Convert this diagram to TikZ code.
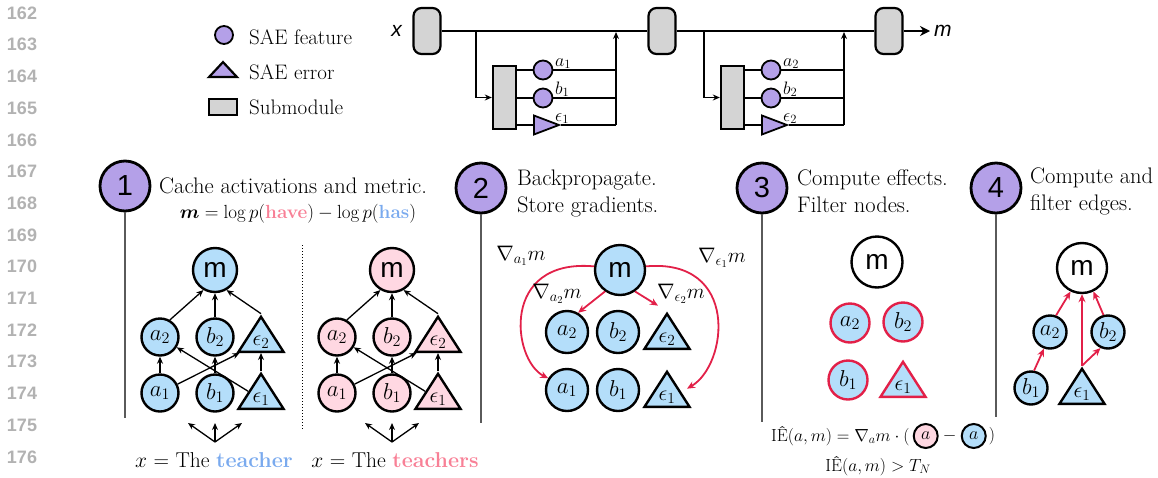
\documentclass[tikz,border=0pt]{standalone}
\usepackage{fix-cm}
\usepackage{amsmath}
\usepackage{fontspec}
\newfontfamily\sansf{Liberation Sans}
\usetikzlibrary{shapes.geometric,arrows.meta,positioning,calc}
\definecolor{purp}{RGB}{180,160,232}
\definecolor{lblue}{RGB}{180,222,250}
\definecolor{lpink}{RGB}{255,216,226}
\definecolor{gbox}{RGB}{212,212,212}
\definecolor{redc}{RGB}{226,32,72}
\definecolor{tblue}{RGB}{122,170,238}
\definecolor{tpink}{RGB}{248,128,150}
\definecolor{lngray}{RGB}{178,178,178}
\definecolor{vline}{RGB}{90,90,90}
\tikzset{
 txt/.style={font=\fontsize{22.5}{27}\selectfont, inner sep=0pt},
 legt/.style={font=\fontsize{21}{24}\selectfont, inner sep=0pt, anchor=west},
 lnum/.style={font=\sansf\bfseries\fontsize{18}{18}\selectfont, text=lngray, inner sep=0pt},
 secc/.style={circle, draw, fill=purp, line width=2.8pt, minimum size=50pt, inner sep=0pt, font=\sansf\fontsize{29}{29}\selectfont},
 pline/.style={draw=vline, line width=1.1pt},
 gnode/.style={circle, draw, line width=2.4pt, minimum size=37pt, inner sep=0pt, font=\fontsize{23}{23}\selectfont},
 mnode/.style={gnode, minimum size=44pt, font=\sansf\fontsize{28}{28}\selectfont},
 gtri/.style={isosceles triangle, isosceles triangle stretches, shape border rotate=90, draw, line width=2.4pt, minimum width=45pt, minimum height=35pt, inner sep=0pt, anchor=lower side, font=\fontsize{22}{22}\selectfont},
 bfill/.style={fill=lblue},
 pfill/.style={fill=lpink},
 barr/.style={-{Stealth[length=7pt,width=6pt]}, line width=1.3pt},
 rarr/.style={-{Stealth[length=8pt,width=7pt]}, line width=1.8pt, draw=redc},
 wire/.style={line width=1.4pt},
 warr/.style={wire, -{Stealth[length=7pt,width=6pt]}},
 mainw/.style={line width=2pt},
 subm/.style={draw, fill=gbox, rounded corners=8pt, line width=2.2pt, minimum width=27pt, minimum height=46pt, inner sep=0pt},
 boxm/.style={draw, fill=gbox, line width=2.4pt, minimum width=23pt, minimum height=63pt, inner sep=0pt},
 featc/.style={circle, draw, fill=purp, line width=1.8pt, minimum size=18pt, inner sep=0pt},
 ftri/.style={isosceles triangle, isosceles triangle stretches, draw, fill=purp, line width=1.8pt, minimum width=19pt, minimum height=25pt, inner sep=0pt, anchor=lower side},
 slab/.style={font=\fontsize{18}{18}\selectfont, inner sep=1pt, anchor=south west},
 glab/.style={font=\fontsize{21}{21}\selectfont, inner sep=0pt},
 eqt/.style={font=\fontsize{17.5}{17.5}\selectfont, inner sep=0pt},
 fcirc/.style={circle, draw, line width=2pt, minimum size=24pt, inner sep=0pt, font=\fontsize{18}{18}\selectfont},
}
\begin{document}
\begin{tikzpicture}[x=1pt,y=-1pt]
\useasboundingbox (0,0) rectangle (1158,477);
% line numbers
\foreach \k in {162,...,176}{
  \pgfmathsetmacro{\yy}{13+(\k-162)*31.7}
  \node[lnum] (ln\k) at (22,\yy) {\k};
}
% legend
\node[featc] (lgf) at (224,35) {};
\node[legt] (lgft) at (249,37) {SAE feature};
\node[isosceles triangle, isosceles triangle stretches, shape border rotate=90, draw, fill=purp, line width=2.2pt, minimum width=28pt, minimum height=15pt, inner sep=0pt] (lge) at (223,71) {};
\node[legt] (lget) at (249,72) {SAE error};
\node[draw, fill=gbox, line width=2.4pt, minimum width=28pt, minimum height=16pt, inner sep=0pt] (lgs) at (223,107) {};
\node[legt] (lgst) at (249,107) {Submodule};
% top circuit
\node[subm] (s1) at (427,31) {};
\node[subm] (s2) at (662,31) {};
\node[subm] (s3) at (889,31) {};
\node[font=\sansf\fontsize{21}{21}\selectfont, inner sep=0pt] (xin) at (397,31) {\textit{x}};
\node[font=\sansf\itshape\fontsize{21}{21}\selectfont, inner sep=0pt, anchor=west] (mout) at (934,31) {m};
\coordinate (mend) at (930,31);
\draw[mainw] (s1) -- (s2);
\draw[mainw] (s2) -- (s3);
\draw[mainw, -{Stealth[length=10pt,width=10pt]}] (s3) -- (mend);
% branch 1
\coordinate (c1) at (476,31);
\node[boxm] (box1) at (504.5,97.5) {};
\node[featc, minimum size=19pt] (f1a) at (543,70) {};
\node[featc, minimum size=19pt] (f1b) at (543,98) {};
\node[ftri] (f1e) at (533,125) {};
\coordinate (j1a) at (616,70);
\coordinate (j1b) at (616,98);
\coordinate (j1e) at (616,125);
\coordinate (j1t) at (616,32);
\draw[warr] (c1) |- (box1.west);
\draw[wire] (box1.east |- f1a) -- (f1a);
\draw[wire] (box1.east |- f1b) -- (f1b);
\draw[wire] (box1.east |- j1e) -- (f1e.lower side);
\draw[wire] (f1a) -- (j1a);
\draw[wire] (f1b) -- (j1b);
\draw[wire] (f1e.apex) -- (j1e);
\draw[warr] (j1e) -- (j1t);
\node[slab] (l1a) at (554,70) {$a_1$};
\node[slab] (l1b) at (554,98) {$b_1$};
\node[slab] (l1e) at (554,125) {$\epsilon_1$};
% branch 2
\coordinate (c2) at (704,31);
\node[boxm] (box2) at (732.5,97.5) {};
\node[featc, minimum size=19pt] (f2a) at (771,70) {};
\node[featc, minimum size=19pt] (f2b) at (771,98) {};
\node[ftri] (f2e) at (761,125) {};
\coordinate (j2a) at (844,70);
\coordinate (j2b) at (844,98);
\coordinate (j2e) at (844,125);
\coordinate (j2t) at (844,32);
\draw[warr] (c2) |- (box2.west);
\draw[wire] (box2.east |- f2a) -- (f2a);
\draw[wire] (box2.east |- f2b) -- (f2b);
\draw[wire] (box2.east |- j2e) -- (f2e.lower side);
\draw[wire] (f2a) -- (j2a);
\draw[wire] (f2b) -- (j2b);
\draw[wire] (f2e.apex) -- (j2e);
\draw[warr] (j2e) -- (j2t);
\node[slab] (l2a) at (782,70) {$a_2$};
\node[slab] (l2b) at (782,98) {$b_2$};
\node[slab] (l2e) at (782,125) {$\epsilon_2$};
% ===== panel 1
\node[secc] (sc1) at (125,186) {1};
\coordinate (sc1e) at (125,418);
\draw[pline] (sc1) -- (sc1e);
\node[txt, anchor=west] (t1) at (159,186) {Cache activations and metric.};
\node[txt, font=\fontsize{19}{19}\selectfont] (form1) at (298,214) {$\boldsymbol{m} = \log p(\textbf{\color{tpink}have}) - \log p(\textbf{\color{tblue}has})$};
% blue graph
\node[mnode, bfill] (p1m) at (215,270) {m};
\node[gnode, bfill] (p1a2) at (160,337) {$a_2$};
\node[gnode, bfill] (p1b2) at (215,337) {$b_2$};
\node[gtri, bfill] (p1e2) at (261,353) {$\epsilon_2$};
\node[gnode, bfill] (p1a1) at (160,393) {$a_1$};
\node[gnode, bfill] (p1b1) at (215,393) {$b_1$};
\node[gtri, bfill] (p1e1) at (261,410) {$\epsilon_1$};
\draw[barr] (p1a2.60) -- (p1m.240);
\draw[barr] (p1b2) -- (p1m);
\draw[barr] (p1e2.apex) -- (p1m.300);
\draw[barr] (p1a1) -- (p1a2);
\draw[barr] (p1b1) -- (p1b2);
\draw[barr] (p1e1.apex) -- (p1e2.lower side);
\draw[barr] (p1a1) -- (p1e2);
\draw[barr] (p1e1) -- (p1a2);
\coordinate (p1x) at (215,442);
\coordinate (p1xl) at (188,423);
\coordinate (p1xm) at (215,423);
\coordinate (p1xr) at (242,423);
\draw[barr] (p1x) -- (p1xl);
\draw[barr] (p1x) -- (p1xm);
\draw[barr] (p1x) -- (p1xr);
\node[txt, font=\fontsize{21.5}{21.5}\selectfont] (p1t) at (214,460) {$x$ = The \textbf{\color{tblue}teacher}};
% dotted divider
\coordinate (dv1) at (302,245);
\coordinate (dv2) at (302,430);
\draw[dotted, line width=1pt] (dv1) -- (dv2);
% pink graph
\node[mnode, pfill] (q1m) at (392,270) {m};
\node[gnode, pfill] (q1a2) at (337,337) {$a_2$};
\node[gnode, pfill] (q1b2) at (392,337) {$b_2$};
\node[gtri, pfill] (q1e2) at (438,353) {$\epsilon_2$};
\node[gnode, pfill] (q1a1) at (337,393) {$a_1$};
\node[gnode, pfill] (q1b1) at (392,393) {$b_1$};
\node[gtri, pfill] (q1e1) at (438,410) {$\epsilon_1$};
\draw[barr] (q1a2.60) -- (q1m.240);
\draw[barr] (q1b2) -- (q1m);
\draw[barr] (q1e2.apex) -- (q1m.300);
\draw[barr] (q1a1) -- (q1a2);
\draw[barr] (q1b1) -- (q1b2);
\draw[barr] (q1e1.apex) -- (q1e2.lower side);
\draw[barr] (q1a1) -- (q1e2);
\draw[barr] (q1e1) -- (q1a2);
\coordinate (q1x) at (392,442);
\coordinate (q1xl) at (365,423);
\coordinate (q1xm) at (392,423);
\coordinate (q1xr) at (419,423);
\draw[barr] (q1x) -- (q1xl);
\draw[barr] (q1x) -- (q1xm);
\draw[barr] (q1x) -- (q1xr);
\node[txt, font=\fontsize{21.5}{21.5}\selectfont] (q1t) at (395,460) {$x$ = The \textbf{\color{tpink}teachers}};
% ===== panel 2
\node[secc] (sc2) at (481,188) {2};
\coordinate (sc2e) at (481,423);
\draw[pline] (sc2) -- (sc2e);
\node[txt, anchor=west, align=left] (t2) at (517,193) {Backpropagate.\\Store gradients.};
\node[mnode, bfill, minimum size=50pt] (p2m) at (620,270) {m};
\node[gnode, bfill, minimum size=42pt] (p2a2) at (567,332) {$a_2$};
\node[gnode, bfill, minimum size=42pt] (p2b2) at (618,332) {$b_2$};
\node[gtri, bfill] (p2e2) at (667,350) {$\epsilon_2$};
\node[gnode, bfill, minimum size=42pt] (p2a1) at (567,390) {$a_1$};
\node[gnode, bfill, minimum size=42pt] (p2b1) at (618,390) {$b_1$};
\node[gtri, bfill] (p2e1) at (667,408) {$\epsilon_1$};
\draw[rarr] (p2m.235) -- (p2a2.60);
\draw[rarr] (p2m.305) -- ($(p2e2.apex)+(-9,-5)$);
\draw[rarr] (p2m.172) .. controls (500,258) and (512,360) .. (p2a1.148);
\draw[rarr] (p2m.8) .. controls (740,258) and (728,365) .. ($(p2e1.apex)+(20,20)$);
\node[glab] (g1) at (521,256) {$\nabla_{a_1} m$};
\node[glab] (g2) at (557,294) {$\nabla_{a_2} m$};
\node[glab] (g3) at (681,294) {$\nabla_{\epsilon_2} m$};
\node[glab] (g4) at (722,258) {$\nabla_{\epsilon_1} m$};
% ===== panel 3
\node[secc] (sc3) at (762,188) {3};
\coordinate (sc3e) at (762,422);
\draw[pline] (sc3) -- (sc3e);
\node[txt, anchor=west, align=left] (t3) at (797,191) {Compute effects.\\Filter nodes.};
\node[mnode, fill=white, minimum size=51pt] (p3m) at (877,262) {m};
\node[gnode, bfill, draw=redc, minimum size=39pt] (p3a2) at (850,323) {$a_2$};
\node[gnode, bfill, draw=redc, minimum size=39pt] (p3b2) at (903,322) {$b_2$};
\node[gnode, bfill, draw=redc, minimum size=39pt] (p3b1) at (848,380) {$b_1$};
\node[gtri, bfill, draw=redc] (p3e1) at (903,398) {$\epsilon_1$};
\node[eqt, anchor=west] (eq1) at (771,436) {IÊ$(a,m) = \nabla_a m \cdot ($};
\node[fcirc, pfill, right=3pt of eq1] (eqp) {$a$};
\node[eqt, right=4pt of eqp] (eqm) {$-$};
\node[fcirc, bfill, right=4pt of eqm] (eqb) {$a$};
\node[eqt, right=2pt of eqb] (eqr) {$)$};
\node[eqt] (eq2) at (878,466) {IÊ$(a,m) > T_N$};
% ===== panel 4
\node[secc] (sc4) at (996,188) {4};
\coordinate (sc4e) at (996,417);
\draw[pline] (sc4) -- (sc4e);
\node[txt, anchor=west, align=left] (t4) at (1030,191) {Compute and\\filter edges.};
\node[mnode, fill=white, minimum size=50pt] (p4m) at (1082,268) {m};
\node[gnode, bfill, minimum size=33pt] (p4a2) at (1050,332) {$a_2$};
\node[gnode, bfill, minimum size=33pt] (p4b2) at (1108,332) {$b_2$};
\node[gnode, bfill, minimum size=33pt] (p4b1) at (1031,388) {$b_1$};
\node[gtri, bfill] (p4e1) at (1082,405) {$\epsilon_1$};
\draw[rarr] (p4a2.70) -- (p4m.244);
\draw[rarr] (p4b2.105) -- (p4m.296);
\draw[rarr] (p4e1.apex) -- (p4m);
\draw[rarr] (p4e1.apex) -- (p4b2.245);
\draw[rarr] (p4b1.80) -- (p4a2.250);
\end{tikzpicture}
\end{document}
